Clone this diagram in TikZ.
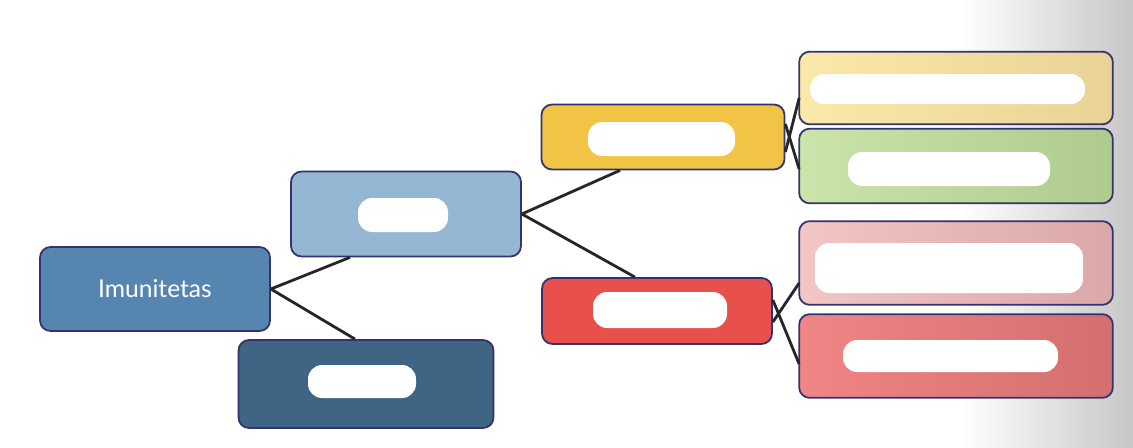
\documentclass[tikz,border=0pt]{standalone}
\usepackage{fontspec}
\setmainfont{Lato}
\begin{document}
\begin{tikzpicture}[x=0.02cm,y=-0.02cm,
 box/.style={draw=black!60!blue!60!gray,line width=1pt,rounded corners=6pt,inner sep=0pt},
 blob/.style={fill=white,draw=none,rounded corners=8pt},
 con/.style={line width=1.6pt,black!85}]
\definecolor{c1}{HTML}{5686B0}
\definecolor{c2}{HTML}{95B7D3}
\definecolor{c3}{HTML}{3F6484}
\definecolor{c4}{HTML}{F2C445}
\definecolor{c5}{HTML}{E8504B}
\definecolor{a1}{HTML}{FBE9A9}\definecolor{a2}{HTML}{E9D296}
\definecolor{b1}{HTML}{CAE4AA}\definecolor{b2}{HTML}{AECB8D}
\definecolor{p1}{HTML}{F3C5C5}\definecolor{p2}{HTML}{DAA8A8}
\definecolor{r1}{HTML}{F08585}\definecolor{r2}{HTML}{D46F6F}
\useasboundingbox (0,0) rectangle (1133,447);
\fill[white] (0,0) rectangle (960,447);
\shade[left color=white,right color=black!22] (960,0) rectangle (1133,447);
% nodes
\node[box,fill=c1,minimum width=230*0.02cm,minimum height=84*0.02cm,text=white,font=\fontsize{14}{16}\selectfont] (im) at (155,289) {Imunitetas};
\node[box,fill=c2,minimum width=230*0.02cm,minimum height=85*0.02cm] (lb) at (406,214) {};
\node[box,fill=c3,minimum width=255*0.02cm,minimum height=88*0.02cm] (dk) at (366,384) {};
\node[box,fill=c4,minimum width=243*0.02cm,minimum height=65*0.02cm] (ye) at (663,137) {};
\node[box,fill=c5,minimum width=230*0.02cm,minimum height=66*0.02cm] (rd) at (657,311) {};
\node[minimum width=313*0.02cm,minimum height=72*0.02cm,inner sep=0pt] (a) at (956,88) {};
\node[minimum width=313*0.02cm,minimum height=74*0.02cm,inner sep=0pt] (b) at (956,166) {};
\node[minimum width=313*0.02cm,minimum height=83*0.02cm,inner sep=0pt] (c) at (956,263) {};
\node[minimum width=313*0.02cm,minimum height=83*0.02cm,inner sep=0pt] (d) at (956,356) {};
\shade[left color=a1,right color=a2,rounded corners=6pt] (a.north west) rectangle (a.south east);
\shade[left color=b1,right color=b2,rounded corners=6pt] (b.north west) rectangle (b.south east);
\shade[left color=p1,right color=p2,rounded corners=6pt] (c.north west) rectangle (c.south east);
\shade[left color=r1,right color=r2,rounded corners=6pt] (d.north west) rectangle (d.south east);
\foreach \n in {a,b,c,d} \draw[draw=black!60!blue!60!gray,line width=1pt,rounded corners=6pt] (\n.north west) rectangle (\n.south east);
% connectors
\draw[con] (im.east) -- ([xshift=-56*0.02cm]lb.south);
\draw[con] (im.east) -- ([xshift=-11*0.02cm]dk.north);
\draw[con] (lb.east) -- ([xshift=-43*0.02cm]ye.south);
\draw[con] (lb.east) -- ([xshift=-22*0.02cm]rd.north);
\draw[con] ([yshift=-15*0.02cm]ye.east) -- ([yshift=-10*0.02cm]a.west);
\draw[con] ([yshift=13*0.02cm]ye.east) -- ([yshift=-3*0.02cm]b.west);
\draw[con] ([yshift=-11*0.02cm]rd.east) -- ([yshift=-20*0.02cm]c.west);
\draw[con] ([yshift=11*0.02cm]rd.east) -- ([yshift=-8*0.02cm]d.west);
% white scribbles
\fill[blob] (358,198) rectangle (448,232);
\fill[blob] (308,365) rectangle (416,398);
\fill[blob] (588,122) rectangle (735,156);
\fill[blob] (593,292) rectangle (727,328);
\fill[blob] (810,74) rectangle (1085,104);
\fill[blob] (848,152) rectangle (1050,186);
\fill[blob] (815,243) rectangle (1083,293);
\fill[blob] (843,340) rectangle (1058,372);
\end{tikzpicture}
\end{document}
